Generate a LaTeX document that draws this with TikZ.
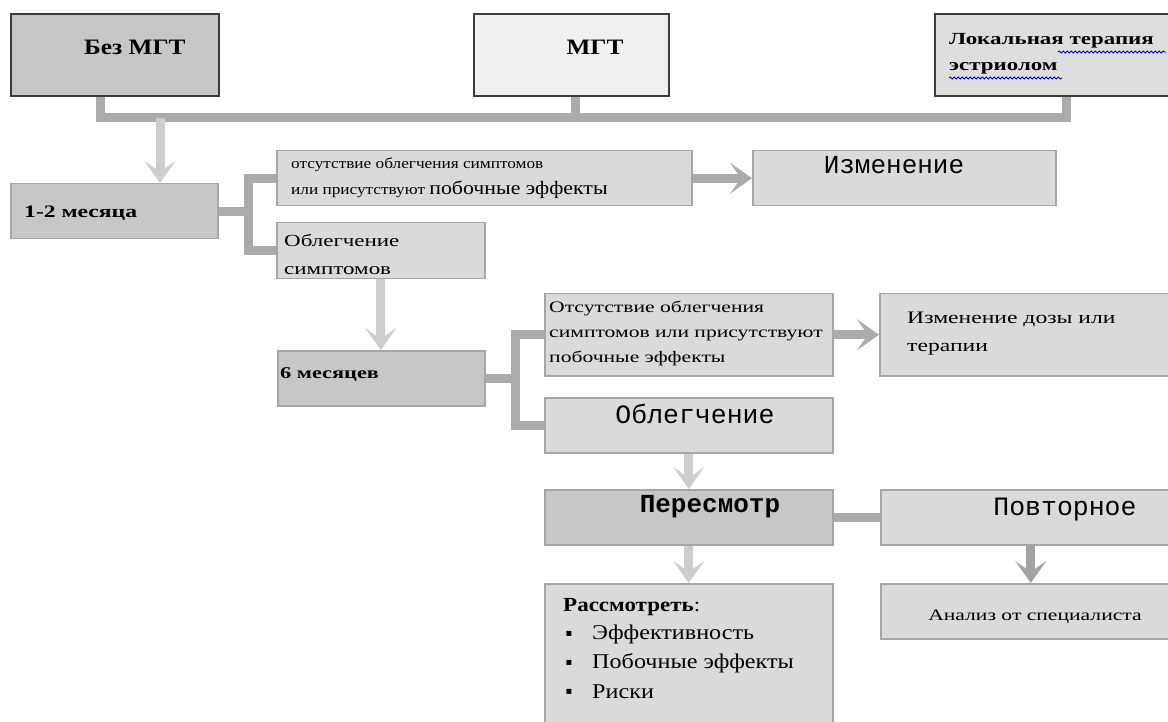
\documentclass[tikz,border=0pt]{standalone}
\usepackage{fontspec}
\setmainfont{Liberation Serif}
\newfontfamily\wserif[FakeStretch=1.15]{Liberation Serif}
\newfontfamily\wwserif[FakeStretch=1.35]{Liberation Serif}
\newfontfamily\monof{Liberation Mono}
\newfontfamily\symf{DejaVu Sans}
\usetikzlibrary{arrows.meta,decorations.pathmorphing}
\definecolor{bxfill}{HTML}{DADADA}
\definecolor{bxline}{HTML}{A6A6A6}
\definecolor{dkfill}{HTML}{C7C7C7}
\definecolor{connc}{HTML}{ABABAB}
\definecolor{arrl}{HTML}{CDCDCD}
\definecolor{arrd}{HTML}{A3A3A3}
\definecolor{topline}{HTML}{3C3C3C}
\newcommand\fsz[2]{\fontsize{#1}{#2}\selectfont}
\tikzset{
  box/.style={draw=bxline, line width=1.5pt, fill=bxfill, inner sep=0pt, anchor=north west},
  dkbox/.style={box, fill=dkfill},
  topbox/.style={box, draw=topline, line width=2pt},
  conn/.style={draw=connc, line width=9pt},
  tipstyle/.style={-{Stealth[length=22pt,width=31pt,inset=11pt]}},
  darr/.style={draw=arrl, line width=9pt, tipstyle},
  harr/.style={draw=connc, line width=9pt, tipstyle},
  dkarr/.style={draw=arrd, line width=9pt, tipstyle},
  txt/.style={inner sep=0pt, anchor=west, align=left},
  ctxt/.style={inner sep=0pt, anchor=center},
  wavy/.style={draw=blue!80!black, line width=0.8pt, decorate, decoration={snake, amplitude=1.1pt, segment length=4pt}}
}
\begin{document}
\begin{tikzpicture}[x=1pt,y=-1pt]
\useasboundingbox (0,0) rectangle (1168,722);
\clip (0,0) rectangle (1168,722);
% top boxes
\node[topbox, fill=dkfill, minimum width=208pt, minimum height=82pt] (bez) at (10,13) {};
\node[topbox, fill=black!6, minimum width=195pt, minimum height=82pt] (mgt) at (473,13) {};
\node[topbox, fill=black!13, minimum width=250pt, minimum height=82pt] (lok) at (934,13) {};
% bus
\coordinate (busL) at (100,118);
\coordinate (busM) at (575,118);
\coordinate (busR) at (1066,118);
\draw[conn] (bez.south -| busL) -- (busL) -- (busR) -- (lok.south -| busR);
\draw[conn] (mgt.south -| busM) -- (busM);
% level 1
\node[dkbox, minimum width=207pt, minimum height=55pt] (m12) at (10,183) {};
\node[box, minimum width=415pt, minimum height=55pt] (otc) at (276,150) {};
\node[box, minimum width=303pt, minimum height=55pt] (izm) at (752,150) {};
\node[box, minimum width=208pt, minimum height=56pt] (obl1) at (276,222) {};
\coordinate (a1) at (160,118);
\draw[darr] (a1) -- (m12.north -| a1);
\coordinate (j1) at (248,211);
\draw[conn] (otc.west) -| (j1) |- (obl1.west);
\draw[conn] (m12.east) -- (m12.east -| j1);
\draw[harr] (otc.east) -- (izm.west);
% level 2
\node[dkbox, minimum width=207pt, minimum height=55pt] (m6) at (277,350) {};
\node[box, minimum width=288pt, minimum height=82pt] (otc2) at (544,293) {};
\node[box, minimum width=300pt, minimum height=82pt] (izd) at (879,293) {};
\node[box, minimum width=288pt, minimum height=55pt] (obl2) at (544,397) {};
\draw[darr] (obl1.south) -- (obl1.south |- m6.north);
\coordinate (j2) at (515,377);
\draw[conn] (otc2.west) -| (j2) |- (obl2.west);
\draw[conn] (m6.east) -- (m6.east -| j2);
\draw[harr] (otc2.east) -- (izd.west);
% level 3
\node[dkbox, minimum width=288pt, minimum height=55pt] (per) at (544,489) {};
\node[box, minimum width=300pt, minimum height=55pt] (pov) at (880,489) {};
\node[box, minimum width=288pt, minimum height=150pt] (ras) at (544,583) {};
\node[box, minimum width=300pt, minimum height=55pt] (ana) at (880,583) {};
\draw[darr] (obl2.south) -- (per.north);
\draw[conn] (per.east) -- (pov.west);
\draw[darr] (per.south) -- (ras.north);
\draw[dkarr] (pov.south) -- (ana.north);
% texts
\node[txt, font=\wserif\bfseries\fsz{22}{26}] (tbez) at (84,47) {Без МГТ};
\node[ctxt, font=\wserif\bfseries\fsz{22}{26}] (tmgt) at (595,47) {МГТ};
\node[txt, font=\wwserif\bfseries\fsz{17}{26}] (tlok) at (949,54) {Локальная терапия\\эстриолом};
\draw[wavy] (1058,52) -- (1166,52);
\draw[wavy] (949,78) -- (1062,78);
\node[txt, font=\wwserif\bfseries\fsz{17.5}{20}] (t12) at (24,213) {1-2 месяца};
\node[txt, font=\wserif\fsz{15}{26}] (totc) at (291,178) {отсутствие облегчения симптомов\\или присутствуют {\fontsize{19}{26}\selectfont побочные эффекты}};
\node[ctxt, font=\monof\fsz{26}{28}] (tizm) at (894,165) {Изменение};
\node[txt, font=\wwserif\fsz{17}{28}] (tobl1) at (284,254) {Облегчение\\симптомов};
\node[txt, font=\wwserif\bfseries\fsz{16.5}{20}] (t6) at (280,374) {6 месяцев};
\node[txt, font=\wwserif\fsz{16}{25}] (totc2) at (549,333) {Отсутствие облегчения\\симптомов или присутствуют\\побочные эффекты};
\node[txt, font=\wwserif\fsz{17.5}{28}] (tizd) at (907,334) {Изменение дозы или\\терапии};
\node[ctxt, font=\monof\fsz{26.5}{28}] (tobl2) at (695,414) {Облегчение};
\node[ctxt, font=\monof\bfseries\fsz{26}{28}] (tper) at (710,507) {Пересмотр};
\node[ctxt, font=\monof\fsz{26.5}{28}] (tpov) at (1065,510) {Повторное};
\node[txt, font=\wserif\fsz{20}{22}] (tras) at (563,607) {\textbf{Рассмотреть}:};
\node[ctxt, font=\symf\fsz{10}{12}] (b1) at (569,634) {▪};
\node[ctxt, font=\symf\fsz{10}{12}] (b2) at (569,663) {▪};
\node[ctxt, font=\symf\fsz{10}{12}] (b3) at (569,692) {▪};
\node[txt, font=\wserif\fsz{21}{22}] (i1) at (592,634) {Эффективность};
\node[txt, font=\wserif\fsz{21}{22}] (i2) at (592,663) {Побочные эффекты};
\node[txt, font=\wserif\fsz{21}{22}] (i3) at (592,692) {Риски};
\node[ctxt, font=\wwserif\fsz{16}{18}] (tana) at (1035,617) {Анализ от специалиста};
\end{tikzpicture}
\end{document}
